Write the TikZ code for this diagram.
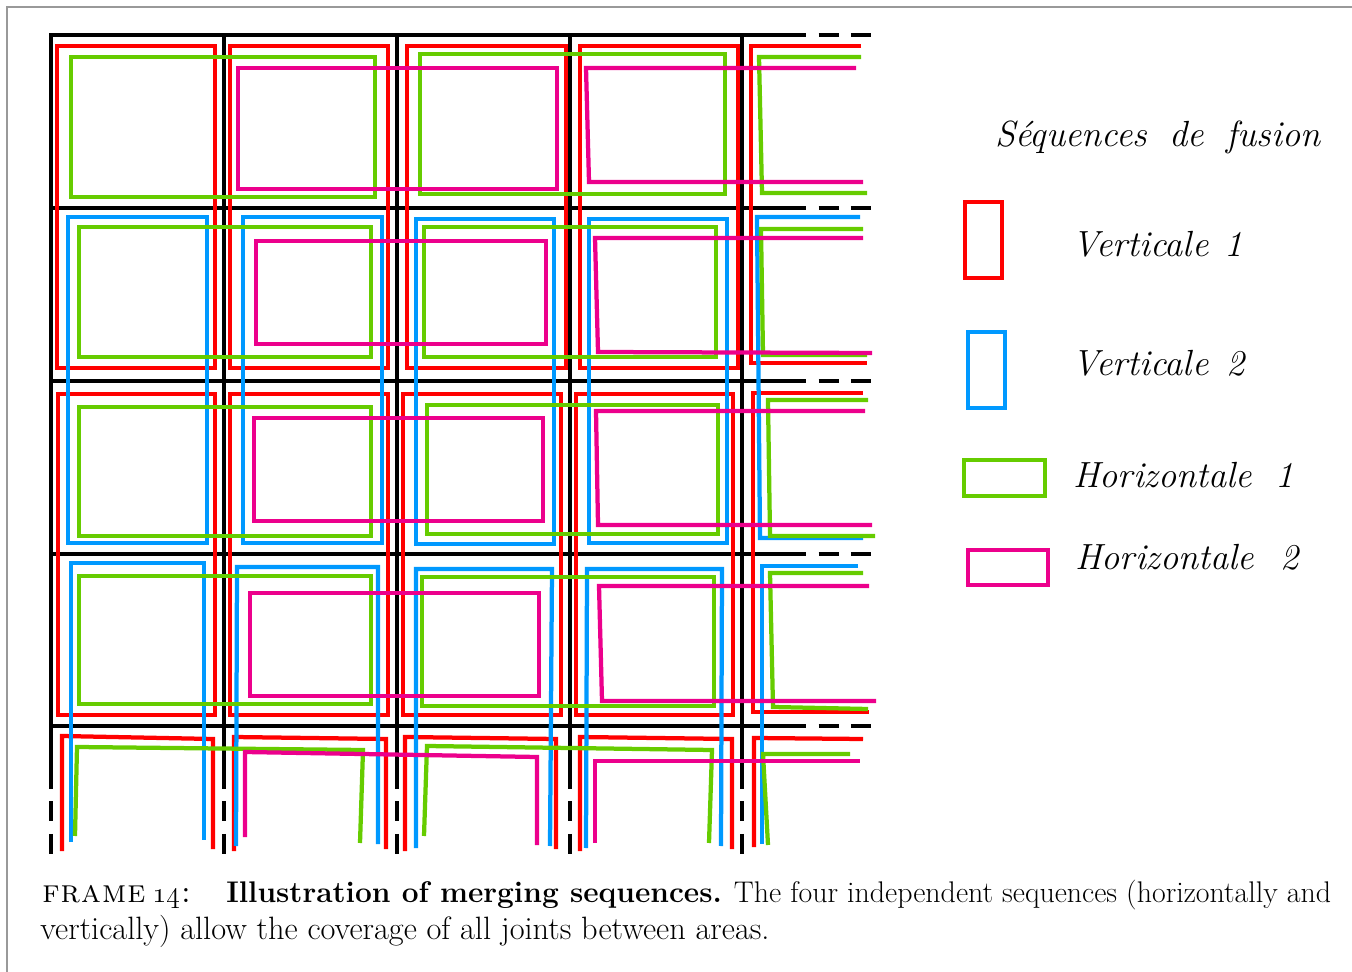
\documentclass[tikz,border=0pt]{standalone}
\definecolor{seqred}{RGB}{255,0,0}
\definecolor{seqblue}{RGB}{0,153,255}
\definecolor{seqgreen}{RGB}{102,204,0}
\definecolor{seqpink}{RGB}{236,0,140}

\begin{document}
\begin{tikzpicture}[x=0.02cm, y=-0.02cm,
    gridline/.style={line width=0.08cm, black, line cap=rect},
    gridcut/.style={line width=0.08cm, black, dash pattern=on 0.4cm off 0.25cm},
    vertone/.style={line width=0.085cm, seqred},
    verttwo/.style={line width=0.085cm, seqblue},
    horone/.style={line width=0.085cm, seqgreen},
    hortwo/.style={line width=0.085cm, seqpink},
    keybox/.style={rectangle, line width=0.085cm, inner sep=0pt},
    keylabel/.style={anchor=base west, inner sep=0pt, font=\fontsize{20.7}{25}\selectfont\itshape},
    captext/.style={anchor=base west, inner sep=0pt, font=\fontsize{18.4}{22}\selectfont}
  ]
    \useasboundingbox (0,0) rectangle (1352,972);

    % page frame
    \draw[black!40, line width=0.025cm] (7,972) -- (7,7) -- (1352,7);

    % grid of areas
    \foreach \gy in {35,208,381,554,726} {
      \draw[gridline] (51,\gy) -- (786,\gy);
      \draw[gridcut] (786,\gy) -- (872,\gy);
    }
    \foreach \gx in {51,224,397,570,742} {
      \draw[gridline] (\gx,35) -- (\gx,769);
      \draw[gridcut] (\gx,769) -- (\gx,856);
    }

    % Verticale 1
    \foreach \xa/\ya/\xb/\yb in {57/46/215/368, 58/394/215/715, 230/46/388/368, 230/394/388/715,
                                 407/46/566/368, 403/394/561/715, 580/46/738/368, 576/394/733/715}
      \draw[vertone] (\xa,\ya) rectangle (\xb,\yb);
    \draw[vertone] (62,851) -- (62,736) -- (213,739) -- (213,849);
    \draw[vertone] (234,851) -- (234,737) -- (386,739) -- (386,849);
    \draw[vertone] (405,851) -- (405,737) -- (556,739) -- (556,849);
    \draw[vertone] (580,851) -- (580,737) -- (732,739) -- (732,849);
    \draw[vertone] (754,847) -- (754,738) -- (863,739);
    \draw[vertone] (861,46) -- (751,46) -- (751,363) -- (867,363);
    \draw[vertone] (863,393) -- (753,393) -- (753,712) -- (869,712);

    % Verticale 2
    \foreach \xa/\ya/\xb/\yb in {68/217/207/543, 243/217/382/543, 416/219/554/544, 589/219/727/543}
      \draw[verttwo] (\xa,\ya) rectangle (\xb,\yb);
    \draw[verttwo] (71,842) -- (71,563) -- (204,563) -- (204,840);
    \draw[verttwo] (236,846) -- (237,567) -- (378,567) -- (378,844);
    \draw[verttwo] (416,848) -- (416,569) -- (552,569) -- (550,846);
    \draw[verttwo] (586,848) -- (587,569) -- (722,569) -- (721,846);
    \draw[verttwo] (860,217) -- (757,217) -- (760,538) -- (863,538);
    \draw[verttwo] (858,566) -- (762,566) -- (762,844);

    % Horizontale 1
    \foreach \xa/\ya/\xb/\yb in {71/57/375/197, 420/54/725/194, 79/227/371/357, 424/227/716/357,
                                 79/407/371/536, 427/405/718/534, 79/576/371/704, 422/577/714/706}
      \draw[horone] (\xa,\ya) rectangle (\xb,\yb);
    \draw[horone] (861,57) -- (759,57) -- (762,193) -- (867,193);
    \draw[horone] (863,229) -- (761,229) -- (763,355) -- (867,355);
    \draw[horone] (868,400) -- (768,400) -- (770,536) -- (875,536);
    \draw[horone] (863,573) -- (770,573) -- (773,707) -- (868,709);
    \draw[horone] (75,836) -- (77,747) -- (363,750) -- (360,843);
    \draw[horone] (424,836) -- (427,746) -- (712,750) -- (709,843);
    \draw[horone] (850,754) -- (763,754) -- (768,845);

    % Horizontale 2
    \foreach \xa/\ya/\xb/\yb in {238/68/557/189, 256/241/546/344, 254/418/543/521, 250/593/539/696}
      \draw[hortwo] (\xa,\ya) rectangle (\xb,\yb);
    \draw[hortwo] (856,68) -- (586,68) -- (589,182) -- (863,182);
    \draw[hortwo] (863,238) -- (595,238) -- (598,352) -- (872,353);
    \draw[hortwo] (865,411) -- (596,411) -- (598,525) -- (872,525);
    \draw[hortwo] (869,586) -- (599,586) -- (602,701) -- (876,701);
    \draw[hortwo] (245,837) -- (245,752) -- (537,757) -- (537,845);
    \draw[hortwo] (595,843) -- (595,761) -- (860,761);

    % legend
    \node[keylabel] (keytitle) at (995,147) {\makebox[6.5cm][s]{S\'equences de fusion}};
    \node[keybox, draw=seqred, minimum width=0.74cm, minimum height=1.52cm] (keyvone) at (983.5,240) {};
    \node[keylabel] (labvone) at (1072,257) {\makebox[3.4cm][s]{Verticale 1}};
    \node[keybox, draw=seqblue, minimum width=0.74cm, minimum height=1.52cm] (keyvtwo) at (986.5,370) {};
    \node[keylabel] (labvtwo) at (1072,376) {\makebox[3.44cm][s]{Verticale 2}};
    \node[keybox, draw=seqgreen, minimum width=1.62cm, minimum height=0.72cm] (keyhone) at (1004.5,478) {};
    \node[keylabel] (labhone) at (1073,488) {\makebox[4.4cm][s]{Horizontale 1}};
    \node[keybox, draw=seqpink, minimum width=1.6cm, minimum height=0.7cm] (keyhtwo) at (1008,567.5) {};
    \node[keylabel] (labhtwo) at (1075,570) {\makebox[4.46cm][s]{Horizontale 2}};

    % caption
    \node[captext] (capnum) at (42,902)
      {\textsc{f\kern0.6pt r\kern0.6pt a\kern0.6pt m\kern0.6pt e\kern4pt \oldstylenums{14}:}};
    \node[captext, font=\fontsize{17}{22}\selectfont] (capfirst) at (226,902)
      {\makebox[22.1cm][s]{\textbf{Illustration of merging sequences.} The four independent sequences (horizontally and}};
    \node[captext] (capsecond) at (40,939)
      {vertically) allow the coverage of all joints between areas.};
  \end{tikzpicture}
\end{document}
